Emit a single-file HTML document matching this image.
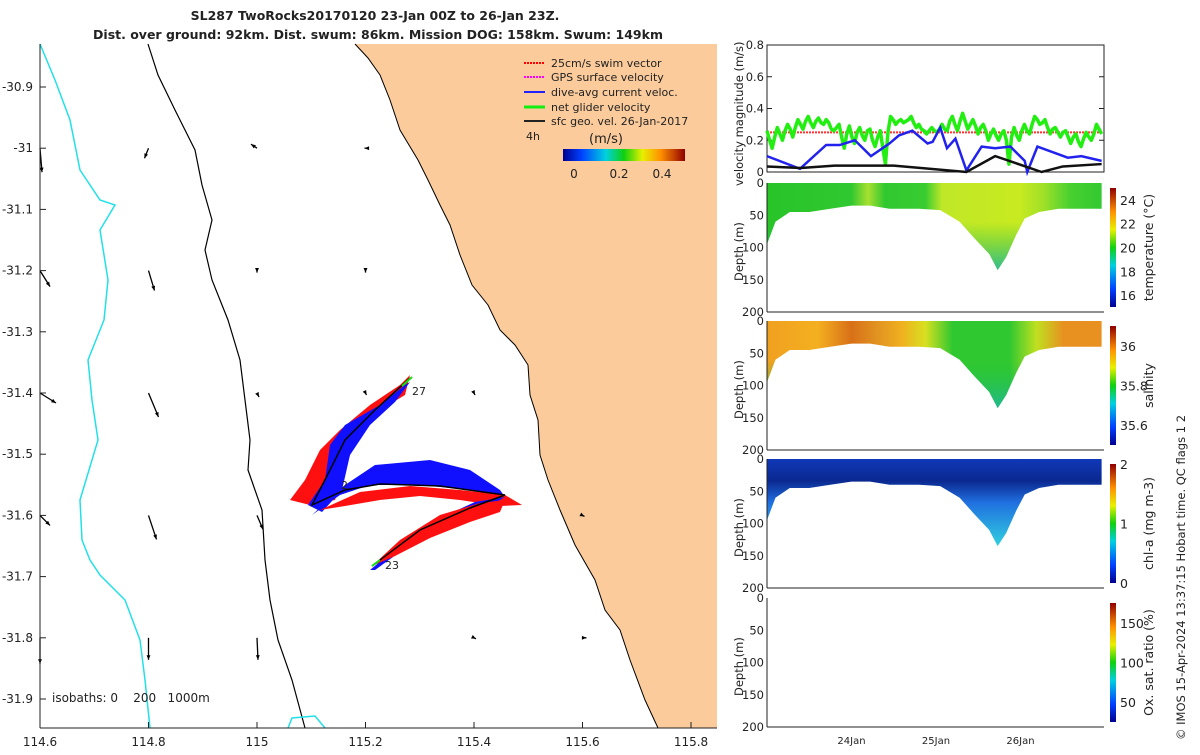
<!DOCTYPE html>
<html><head><meta charset="utf-8"><style>
body{margin:0;background:#fff;font-family:"Liberation Sans",sans-serif}
svg text{font-family:"DejaVu Sans","Liberation Sans",sans-serif;font-size:12px;fill:#222}
</style></head><body>
<svg id="fig" width="1200" height="750" xmlns="http://www.w3.org/2000/svg">
<defs>
<linearGradient id="jet" x1="0" y1="1" x2="0" y2="0">
<stop offset="0" stop-color="#00008f"/><stop offset="0.15" stop-color="#0040ff"/><stop offset="0.35" stop-color="#00d0e0"/><stop offset="0.5" stop-color="#10d010"/><stop offset="0.65" stop-color="#e8f000"/><stop offset="0.8" stop-color="#ff9000"/><stop offset="1" stop-color="#900000"/></linearGradient>
<linearGradient id="jeth" x1="0" y1="0" x2="1" y2="0">
<stop offset="0" stop-color="#00008f"/><stop offset="0.15" stop-color="#0040ff"/><stop offset="0.35" stop-color="#00d0e0"/><stop offset="0.5" stop-color="#10d010"/><stop offset="0.65" stop-color="#e8f000"/><stop offset="0.8" stop-color="#ff9000"/><stop offset="1" stop-color="#900000"/></linearGradient>
<linearGradient id="tempG" x1="767" y1="0" x2="1104" y2="0" gradientUnits="userSpaceOnUse">
<stop offset="0" stop-color="#28c428"/><stop offset="0.25" stop-color="#30c830"/><stop offset="0.3" stop-color="#a8e030"/><stop offset="0.35" stop-color="#30c830"/><stop offset="0.47" stop-color="#38cc30"/><stop offset="0.52" stop-color="#c0e828"/><stop offset="0.75" stop-color="#c8ea20"/><stop offset="0.82" stop-color="#a0e028"/><stop offset="0.9" stop-color="#48d030"/><stop offset="1" stop-color="#30c830"/></linearGradient>
<linearGradient id="salG" x1="767" y1="0" x2="1104" y2="0" gradientUnits="userSpaceOnUse">
<stop offset="0" stop-color="#f0a020"/><stop offset="0.15" stop-color="#f4b020"/><stop offset="0.25" stop-color="#d87018"/><stop offset="0.32" stop-color="#e09020"/><stop offset="0.4" stop-color="#f0b020"/><stop offset="0.47" stop-color="#d8e020"/><stop offset="0.55" stop-color="#30c830"/><stop offset="0.72" stop-color="#30c830"/><stop offset="0.8" stop-color="#c0e020"/><stop offset="0.88" stop-color="#e89020"/><stop offset="1" stop-color="#e89020"/></linearGradient>
<linearGradient id="depthT" x1="0" y1="0" x2="0" y2="1"><stop offset="0.45" stop-color="#20c040" stop-opacity="0"/><stop offset="1" stop-color="#20b8a0" stop-opacity="0.9"/></linearGradient>
<linearGradient id="chlG" x1="0" y1="0" x2="0" y2="1"><stop offset="0" stop-color="#1038b8"/><stop offset="0.25" stop-color="#0a2890"/><stop offset="0.5" stop-color="#2070e0"/><stop offset="1" stop-color="#30d0e0"/></linearGradient>
</defs>

<text x="375" y="20" text-anchor="middle" font-weight="bold" style="font-size:12.5px">SL287 TwoRocks20170120 23-Jan 00Z to 26-Jan 23Z.</text>
<text x="378" y="39" text-anchor="middle" font-weight="bold" style="font-size:12.5px">Dist. over ground: 92km. Dist. swum: 86km. Mission DOG: 158km. Swum: 149km</text>

<g id="map">
<rect x="40" y="44" width="677" height="684" fill="#fff"/>
<polygon fill="#fbcb9b" points="355,44 717,44 717,728 658,728 645,700 630,660 620,630 605,610 595,580 575,545 560,510 548,480 540,455 538,420 530,395 528,365 515,345 500,330 488,305 472,285 460,255 450,225 440,205 428,180 418,160 400,130 390,100 380,75 368,58"/>
<polyline fill="none" stroke="#000" stroke-width="1" points="355,44 368,58 380,75 390,100 400,130 418,160 428,180 440,205 450,225 460,255 472,285 488,305 500,330 515,345 528,365 530,395 538,420 540,455 548,480 560,510 575,545 595,580 605,610 620,630 630,660 645,700 658,728"/>
<polyline fill="none" stroke="#000" stroke-width="1.2" points="148,44 158,75 175,110 195,150 202,185 212,220 205,250 212,280 228,320 240,360 245,400 250,440 248,470 262,510 265,560 270,600 278,640 292,680 305,728"/>
<polyline fill="none" stroke="#22e0e8" stroke-width="1.5" points="40,44 55,80 70,120 80,170 100,200 115,205 100,230 108,280 104,320 88,360 92,400 98,440 80,500 82,540 90,560 100,575 125,600 140,640 145,680 150,728"/>
<polyline fill="none" stroke="#22e0e8" stroke-width="1.5" points="288,728 292,718 315,716 325,728"/>
<g id="swaths">
<polygon fill="#ff1010" points="290,500 305,480 320,450 340,430 370,405 400,385 410,375 405,395 380,410 355,440 345,470 335,500 310,505"/>
<polygon fill="#1010ff" points="330,445 345,425 380,405 405,385 410,382 395,402 370,425 350,455 342,490 322,512 308,505 325,480"/>
<polygon fill="#1010ff" points="345,485 375,465 430,460 470,470 500,490 505,497 470,490 420,485 370,485 340,495 312,515"/>
<polygon fill="#ff1010" points="320,510 360,492 410,486 460,490 505,495 522,505 500,506 460,500 420,496 380,500 345,506"/>
<polygon fill="#1010ff" points="370,570 400,545 440,518 475,502 505,497 480,512 440,528 400,552 375,570"/>
<polygon fill="#ff1010" points="372,566 400,540 440,515 480,503 505,500 500,512 470,522 430,538 395,556"/>
<polyline fill="none" stroke="#000" stroke-width="1.5" points="372,566 420,530 470,508 505,495 440,486 380,484 345,490 312,505 330,470 345,440 375,410 410,378"/>
<polyline fill="none" stroke="#10e010" stroke-width="2" points="372,566 380,560"/>
<polyline fill="none" stroke="#10e010" stroke-width="2" points="402,386 412,377"/>
</g>
<text x="385" y="569" style="font-size:11px">23</text>
<text x="341" y="489" style="font-size:11px">2</text>
<text x="412" y="395" style="font-size:11px">27</text>
<g id="arrows"></g>
<g>
<line x1="524" y1="63" x2="545" y2="63" stroke="#f00" stroke-width="2" stroke-dasharray="2,1"/><text x="551" y="67" style="font-size:11px">25cm/s swim vector</text>
<line x1="524" y1="77" x2="545" y2="77" stroke="#f0f" stroke-width="2" stroke-dasharray="2,1"/><text x="551" y="81" style="font-size:11px">GPS surface velocity</text>
<line x1="524" y1="92" x2="545" y2="92" stroke="#22f" stroke-width="2"/><text x="551" y="96" style="font-size:11px">dive-avg current veloc.</text>
<line x1="524" y1="107" x2="545" y2="107" stroke="#1e1" stroke-width="3"/><text x="551" y="111" style="font-size:11px">net glider velocity</text>
<line x1="524" y1="121" x2="545" y2="121" stroke="#222" stroke-width="2"/><text x="551" y="125" style="font-size:11px">sfc geo. vel. 26-Jan-2017</text>
<text x="526" y="140" style="font-size:11px">4h</text>
<text x="606" y="143" text-anchor="middle" style="font-size:13px">(m/s)</text>
<rect x="563" y="149" width="122" height="12" fill="url(#jeth)"/>
<text x="574" y="178" text-anchor="middle">0</text><text x="619" y="178" text-anchor="middle">0.2</text><text x="662" y="178" text-anchor="middle">0.4</text>
</g>
<text x="52" y="702" style="white-space:pre">isobaths: 0    200   1000m</text>
<line x1="40" y1="44" x2="40" y2="728" stroke="#222"/>
<line x1="40" y1="728" x2="717" y2="728" stroke="#222"/>
<g id="mapticks"></g>
</g>

<g>
<rect x="767" y="45" width="337" height="127" fill="#fff" stroke="#222"/>
<g id="velaxis"></g>
<g id="vellines"></g>
<text transform="translate(743,186) rotate(-90)" style="font-size:11.5px">velocity magnitude (m/s)</text>
</g>

<g id="sections"></g>
<text transform="translate(1185,740) rotate(-90)" style="font-size:11.5px">© IMOS 15-Apr-2024 13:37:15 Hobart time. QC flags 1  2</text>
</svg>
<script>
const NS='http://www.w3.org/2000/svg';
function mk(p,tag,attrs){const e=document.createElementNS(NS,tag);for(const k in attrs)e.setAttribute(k,attrs[k]);p.appendChild(e);return e;}

const lonTicks=[114.6,114.8,115,115.2,115.4,115.6,115.8];
const latTicks=[-30.9,-31,-31.1,-31.2,-31.3,-31.4,-31.5,-31.6,-31.7,-31.8,-31.9];
const lonX=l=>40+(l-114.6)/0.2*108.5;
const latY=l=>87+(-30.9-l)/0.1*61.2;
const mt=document.getElementById('mapticks');
lonTicks.forEach(l=>{const t=mk(mt,'text',{x:lonX(l),y:746,'text-anchor':'middle'});t.textContent=String(l);


mk(mt,'line',{x1:lonX(l),x2:lonX(l),y1:728,y2:722,stroke:'#222'});});
latTicks.forEach(l=>{const t=mk(mt,'text',{x:33,y:latY(l)+4,'text-anchor':'end'});t.textContent=String(l);


mk(mt,'line',{x1:40,x2:46,y1:latY(l),y2:latY(l),stroke:'#222'});});

const arrLon=[114.6,114.8,115,115.2,114.6,114.8,115,115.2,114.6,114.8,115,115.2,115.4,114.6,114.8,115,115.6,114.6,114.8,115,115.4,115.6];
const arrLat=[-31,-31,-31,-31,-31.2,-31.2,-31.2,-31.2,-31.4,-31.4,-31.4,-31.4,-31.4,-31.6,-31.6,-31.6,-31.6,-31.8,-31.8,-31.8,-31.8,-31.8];
const arrU=[0.01,-0.02,-0.03,-0.005,0.05,0.03,0,0,0.08,0.05,0.01,0.005,0.005,0.05,0.04,0.03,0.01,0,0,0.005,0.01,0.02];
const arrV=[-0.12,-0.05,0.02,0,-0.08,-0.1,-0.01,-0.01,-0.05,-0.12,-0.02,-0.01,-0.01,-0.05,-0.12,-0.07,-0.005,-0.13,-0.11,-0.11,-0.005,0];
const ag=document.getElementById('arrows');
arrLon.forEach((lo,i)=>{const x=lonX(lo),y=latY(arrLat[i]);const s=200;const x2=x+arrU[i]*s,y2=y-arrV[i]*s;
const g=mk(ag,'g',{});


mk(g,'line',{x1:x,y1:y,x2:x2,y2:y2,stroke:'#000','stroke-width':1.3});
const a=Math.atan2(y2-y,x2-x),h=5;
mk(g,'polygon',{points:`${x2},${y2} ${x2-h*Math.cos(a-0.4)},${y2-h*Math.sin(a-0.4)} ${x2-h*Math.cos(a+0.4)},${y2-h*Math.sin(a+0.4)}`,fill:'#000'});});

const velTicks=[0,0.2,0.4,0.6,0.8];
const dayTicks=[1,2,3];
const dayLabels=['24Jan','25Jan','26Jan'];
const greenVals=[0.26,0.2,0.15,0.22,0.28,0.24,0.2,0.26,0.3,0.27,0.22,0.28,0.33,0.3,0.27,0.32,0.35,0.31,0.28,0.32,0.34,0.31,0.3,0.33,0.31,0.27,0.26,0.28,0.3,0.22,0.15,0.24,0.29,0.22,0.18,0.25,0.28,0.23,0.2,0.26,0.27,0.2,0.16,0.22,0.26,0.15,0.05,0.25,0.35,0.33,0.3,0.32,0.33,0.31,0.32,0.33,0.35,0.31,0.28,0.3,0.27,0.26,0.24,0.26,0.28,0.26,0.25,0.27,0.3,0.27,0.26,0.32,0.35,0.3,0.26,0.32,0.37,0.32,0.27,0.3,0.33,0.29,0.24,0.28,0.3,0.26,0.2,0.24,0.27,0.23,0.2,0.24,0.26,0.2,0.05,0.22,0.28,0.23,0.2,0.26,0.3,0.26,0.24,0.3,0.35,0.33,0.3,0.31,0.33,0.28,0.24,0.27,0.28,0.25,0.22,0.25,0.26,0.22,0.18,0.22,0.24,0.19,0.16,0.21,0.25,0.22,0.2,0.24,0.3,0.27,0.24];
const blueDays=[0,0.39,0.7,0.86,1.04,1.23,1.45,1.56,1.72,1.9,1.96,2.05,2.13,2.23,2.36,2.54,2.7,2.88,3.05,3.08,3.2,3.56,3.72,3.96];
const blueVals=[0.1,0.02,0.17,0.17,0.2,0.1,0.18,0.23,0.26,0.18,0.19,0.28,0.15,0.21,0.01,0.16,0.15,0.16,0.07,0.0,0.16,0.09,0.1,0.07];
const blackDays=[0,0.4,0.8,1.5,2.36,2.7,3.25,3.5,3.96];
const blackVals=[0.035,0.025,0.04,0.04,0.0,0.1,0.0,0.035,0.05];
const swimSpeed=0.25;
const tX=d=>767+d*84.5;
const vY=v=>172-v/0.8*127;
const va=document.getElementById('velaxis');
velTicks.forEach(v=>{const t=mk(va,'text',{x:764,y:vY(v)+4,'text-anchor':'end',style:'font-size:11.5px'});t.textContent=String(v);


mk(va,'line',{x1:767,x2:772,y1:vY(v),y2:vY(v),stroke:'#222'});mk(va,'line',{x1:1099,x2:1104,y1:vY(v),y2:vY(v),stroke:'#222'});});
const vl=document.getElementById('vellines');
const swim=mk(vl,'line',{x1:tX(0),x2:tX(3.96),y1:vY(swimSpeed),y2:vY(swimSpeed),stroke:'#f33','stroke-width':2,'stroke-dasharray':'2,1'});


const gl=mk(vl,'polyline',{fill:'none',stroke:'#22ee11','stroke-width':3.5,'stroke-linejoin':'round',points:greenVals.map((v,i)=>tX(i*3.96/(greenVals.length-1))+','+vY(v)).join(' ')});


const bl=mk(vl,'polyline',{fill:'none',stroke:'#2222ee','stroke-width':2.5,points:blueDays.map((d,i)=>tX(d)+','+vY(blueVals[i])).join(' ')});


const kl=mk(vl,'polyline',{fill:'none',stroke:'#111','stroke-width':2.5,points:blackDays.map((d,i)=>tX(d)+','+vY(blackVals[i])).join(' ')});



const depthTicks=[0,50,100,150,200];
const profDays=[0,0.1,0.27,0.5,0.75,1.0,1.22,1.45,1.8,2.05,2.28,2.45,2.63,2.73,2.83,2.95,3.05,3.22,3.45,3.96];
const profDepth=[95,60,45,45,40,35,35,40,40,42,60,85,110,135,115,80,55,45,40,40];
const panels=[{top:183,name:'temperature',fill:'url(#tempG)',title:'temperature (°C)',cb:[16,18,20,22,24],cmin:15,cmax:25,over:true,prof:true},
{top:321,name:'salinity',fill:'url(#salG)',title:'salinity',cb:[35.6,35.8,36],cmin:35.5,cmax:36.1,over:true,prof:true},
{top:459,name:'chl-a',fill:'url(#chlG)',title:'chl-a (mg m-3)',cb:[0,1,2],cmin:0,cmax:2,over:false,prof:true},
{top:598,name:'oxygen',fill:'none',title:'Ox. sat. ratio (%)',cb:[50,100,150],cmin:25,cmax:175,over:false,prof:false}];
const sec=document.getElementById('sections');
panels.forEach(p=>{
 const H=129;const dY=d=>p.top+d/200*H;
 const g=mk(sec,'g',{});
 
 
 mk(g,'rect',{x:767,y:p.top,width:337,height:H,fill:'#fff'});
 if(p.prof){
  const pts=[tX(0)+','+dY(0)].concat(profDays.map((d,i)=>tX(d)+','+dY(profDepth[i]))).concat([tX(3.96)+','+dY(0)]).join(' ');
  const sh=mk(g,'polygon',{points:pts,fill:p.fill});
  
  
  if(p.over) mk(g,'polygon',{points:pts,fill:'url(#depthT)'});
 }
 mk(g,'line',{x1:767,y1:p.top,x2:767,y2:p.top+H,stroke:'#222'});
 mk(g,'line',{x1:767,y1:p.top+H,x2:1104,y2:p.top+H,stroke:'#222'});
 depthTicks.forEach(d=>{const t=mk(g,'text',{x:764,y:dY(d)+4,'text-anchor':'end',style:'font-size:11.5px'});t.textContent=String(d);
  
  });
 const yt=mk(g,'text',{transform:`translate(743,${p.top+98}) rotate(-90)`,style:'font-size:11.5px'});yt.textContent='Depth (m)';
 
 
 const cb=mk(g,'rect',{x:1110,y:p.top+5,width:6,height:H-10,fill:'url(#jet)'});
 
 
 p.cb.forEach(v=>{const y=p.top+H-5-(v-p.cmin)/(p.cmax-p.cmin)*(H-10);
  const t=mk(g,'text',{x:1120,y:y+5,style:'font-size:12.5px'});t.textContent=String(v);
  
  });
 const ct=mk(g,'text',{transform:`translate(1153,${p.top+H/2}) rotate(-90)`,'text-anchor':'middle',style:'font-size:12.5px'});ct.textContent=p.title;
 
 
});
dayTicks.forEach((d,i)=>{const t=mk(sec,'text',{x:tX(d),y:744,'text-anchor':'middle',style:'font-size:10px'});t.textContent=dayLabels[i];
 
 });
</script>
</body></html>
